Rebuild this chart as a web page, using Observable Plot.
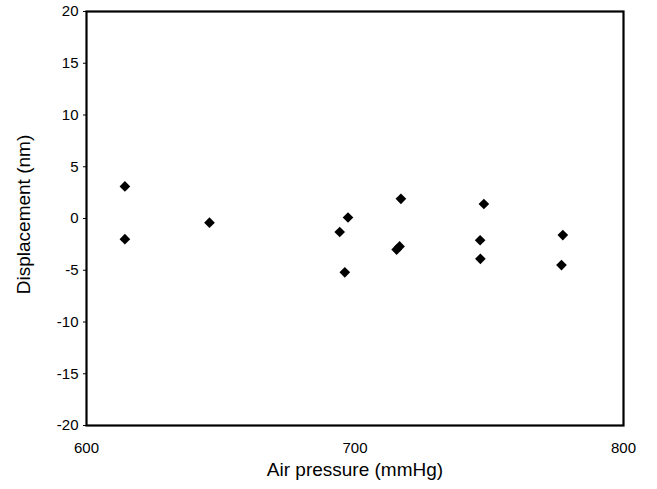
<!DOCTYPE html>
<html>
<head>
<meta charset="utf-8">
<script src="https://cdn.jsdelivr.net/npm/d3@7"></script>
<script src="https://cdn.jsdelivr.net/npm/@observablehq/plot@0.6"></script>
<style>
  html, body { margin: 0; padding: 0; background: #fff; }
  #chart svg { display: block; }
</style>
</head>
<body>
<div id="chart"></div>
<script>
const airPressure = [614.3, 614.3, 645.8, 694.3, 697.4, 696.2, 717.1, 715.5, 716.6, 748.0, 746.6, 746.7, 777.4, 776.9];
const displacement = [3.1, -2.0, -0.4, -1.3, 0.1, -5.2, 1.9, -3.0, -2.7, 1.4, -2.1, -3.9, -1.6, -4.5];
const xTicks = [600, 700, 800];
const yTicks = [-20, -15, -10, -5, 0, 5, 10, 15, 20];
const xLabel = "Air pressure (mmHg)";
const yLabel = "Displacement (nm)";

const data = airPressure.map((x, i) => ({x, y: displacement[i]}));

const chart = Plot.plot({
  width: 657,
  height: 489,
  marginLeft: 86,
  marginRight: 34,
  marginTop: 11,
  marginBottom: 64,
  style: {fontFamily: "'Liberation Sans', Arial, sans-serif", color: "#000", background: "#fff"},
  x: {domain: [600, 800]},
  y: {domain: [-20, 20]},
  marks: [
    Plot.axisX({ticks: xTicks, tickSize: 0, tickPadding: 17, fontSize: 15, label: null, tickFormat: d => String(d)}),
    Plot.axisY({ticks: yTicks, tickSize: 3, tickPadding: 5, fontSize: 15, label: null, tickFormat: d => String(d)}),
    Plot.text([xLabel], {frameAnchor: "bottom", dy: 50, fontSize: 19, fill: "#000"}),
    Plot.text([yLabel], {frameAnchor: "left", textAnchor: "middle", dx: -63, dy: -4, rotate: -90, fontSize: 19, fill: "#000"}),
    Plot.frame({stroke: "#000", strokeWidth: 2.2}),
    Plot.dot(data, {x: "x", y: "y", symbol: "diamond2", r: 4.8, fill: "#000", stroke: "none"})
  ]
});
document.getElementById("chart").appendChild(chart);
</script>
</body>
</html>
